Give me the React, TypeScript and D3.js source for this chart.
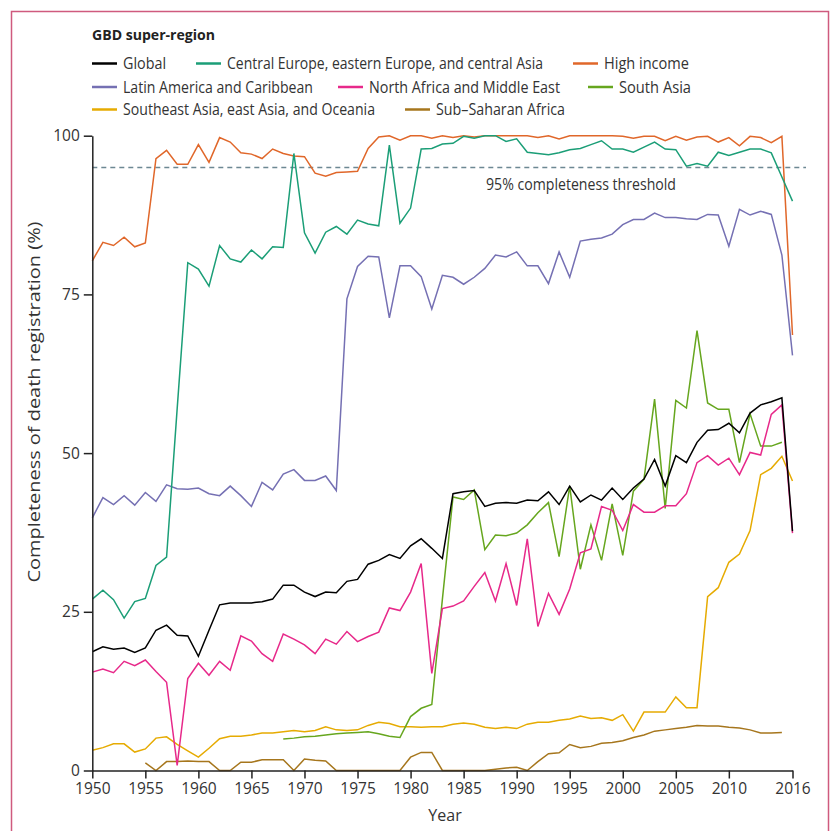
import { useEffect, useRef } from 'react';
import * as d3 from 'd3';

// years 1950..2016
const years = d3.range(1950, 2017);

const globalVals = [
  18.7, 19.5, 19.1, 19.3, 18.6, 19.3, 22.1, 22.9, 21.3, 21.2,
  18.0, 22.1, 26.1, 26.4, 26.4, 26.4, 26.6, 27.0, 29.2, 29.2,
  28.1, 27.4, 28.1, 28.0, 29.8, 30.1, 32.5, 33.1, 34.0, 33.4,
  35.4, 36.5, 35.0, 33.4, 43.6, 43.9, 44.1, 41.6, 42.1, 42.2,
  42.1, 42.6, 42.5, 43.9, 41.9, 44.8, 42.3, 43.4, 42.6, 44.5,
  42.7, 44.5, 45.9, 49.0, 44.8, 49.6, 48.5, 51.7, 53.6, 53.7,
  54.7, 53.2, 56.3, 57.6, 58.1, 58.7, 37.7,
];
const centralEurope = [
  27.0, 28.4, 26.9, 24.0, 26.6, 27.1, 32.3, 33.6, 57.0, 80.0,
  79.0, 76.3, 82.7, 80.6, 80.1, 82.0, 80.6, 82.5, 82.4, 97.2,
  84.7, 81.5, 84.8, 85.7, 84.5, 86.7, 86.1, 85.8, 98.5, 86.2,
  88.6, 97.9, 98.0, 98.7, 98.8, 99.9, 99.6, 100, 100, 99.1,
  99.5, 97.4, 97.2, 97.0, 97.3, 97.8, 98.0, 98.6, 99.2, 97.9,
  97.9, 97.4, 98.2, 99.0, 97.9, 97.8, 95.2, 95.6, 95.2, 97.4,
  96.9, 97.4, 97.9, 97.9, 97.3, 93.5, 89.7,
];
const highIncome = [
  80.3, 83.2, 82.7, 84.0, 82.5, 83.1, 96.4, 97.7, 95.5, 95.5,
  98.6, 95.8, 99.7, 99.0, 97.3, 97.1, 96.4, 97.9, 97.2, 96.8,
  96.7, 94.1, 93.6, 94.2, 94.3, 94.4, 98.0, 99.8, 100, 99.3,
  100, 100, 99.6, 100, 99.7, 100, 99.8, 100, 100, 100,
  100, 100, 99.7, 100, 99.5, 100, 100, 100, 100, 100,
  99.9, 99.6, 99.9, 99.9, 99.2, 99.9, 99.3, 99.8, 99.9, 99.0,
  99.7, 98.4, 99.9, 99.7, 98.9, 99.9, 68.6,
];
const latinAmerica = [
  39.8, 43.0, 41.9, 43.3, 41.8, 43.8, 42.4, 45.0, 44.4, 44.3,
  44.5, 43.6, 43.3, 44.8, 43.3, 41.6, 45.4, 44.2, 46.7, 47.4,
  45.7, 45.7, 46.4, 44.1, 74.3, 79.4, 81.0, 80.9, 71.3, 79.5,
  79.5, 77.8, 72.7, 78.0, 77.7, 76.6, 77.7, 79.1, 81.2, 80.9,
  81.7, 79.5, 79.5, 76.7, 81.7, 77.7, 83.4, 83.7, 83.9, 84.5,
  86.0, 86.8, 86.8, 87.8, 87.1, 87.1, 86.9, 86.8, 87.6, 87.5,
  82.6, 88.4, 87.5, 88.1, 87.6, 81.2, 65.4,
];
const northAfrica = [
  15.5, 16.0, 15.4, 17.2, 16.5, 17.4, 15.6, 13.9, 0.8, 14.5,
  16.9, 15.0, 17.2, 15.8, 21.2, 20.4, 18.4, 17.2, 21.5, 20.7,
  19.8, 18.4, 20.7, 19.9, 21.9, 20.3, 21.1, 21.8, 25.6, 25.2,
  28.1, 32.6, 15.3, 25.5, 25.9, 26.7, 29.0, 31.2, 26.7, 32.6,
  26.0, 36.5, 22.7, 27.9, 24.6, 28.6, 34.3, 34.9, 41.6, 41.0,
  37.8, 41.9, 40.7, 40.7, 41.7, 41.7, 43.6, 48.5, 49.6, 48.1,
  49.2, 46.6, 50.1, 49.7, 56.1, 57.6, 37.4,
];
const southAsia = [
  null, null, null, null, null, null, null, null, null, null,
  null, null, null, null, null, null, null, null, 4.95, 5.1,
  5.3, 5.4, 5.6, 5.8, 5.9, 6.0, 6.1, 5.8, 5.4, 5.2,
  8.5, 9.8, 10.4, 27.0, 43.1, 42.7, 44.2, 34.8, 37.1, 37.0,
  37.4, 38.7, 40.6, 42.2, 33.7, 44.8, 31.7, 38.7, 33.1, 42.0,
  33.9, 44.0, 45.9, 58.5, 41.3, 58.3, 57.1, 69.3, 57.9, 56.9,
  56.9, 48.5, 56.2, 51.1, 51.1, 51.7, null,
];
const southeastAsia = [
  3.2, 3.6, 4.2, 4.2, 2.9, 3.4, 5.1, 5.3, 4.1, 3.1,
  2.1, 3.5, 5.0, 5.4, 5.4, 5.6, 5.9, 5.9, 6.1, 6.3,
  6.1, 6.3, 6.9, 6.4, 6.3, 6.4, 7.1, 7.6, 7.4, 6.9,
  6.9, 6.8, 6.9, 6.9, 7.3, 7.5, 7.3, 6.8, 6.6, 6.8,
  6.6, 7.3, 7.6, 7.6, 7.9, 8.1, 8.6, 8.2, 8.3, 7.9,
  8.8, 6.2, 9.2, 9.2, 9.2, 11.6, 9.9, 9.9, 27.4, 28.8,
  32.8, 34.1, 37.8, 46.6, 47.6, 49.5, 45.6,
];
const subSaharan = [
  null, null, null, null, null, 1.2, 0, 1.4, 1.4, 1.5,
  1.4, 1.4, 0, 0, 1.3, 1.3, 1.7, 1.7, 1.7, 0,
  1.8, 1.6, 1.5, 0, 0, 0, 0, 0, 0, 0,
  2.1, 2.85, 2.85, 0, 0, 0, 0, 0, 0.2, 0.4,
  0.5, 0, 1.4, 2.65, 2.8, 4.1, 3.6, 3.8, 4.3, 4.4,
  4.7, 5.2, 5.6, 6.2, 6.4, 6.6, 6.8, 7.1, 7.0, 7.0,
  6.8, 6.7, 6.4, 5.9, 5.9, 6.0, null,
];

const xTicks = [1950, 1955, 1960, 1965, 1970, 1975, 1980, 1985, 1990, 1995, 2000, 2005, 2010, 2016];
const yTicks = [0, 25, 50, 75, 100];
const threshold = 95;

const series = [
  { name: 'Sub\u2013Saharan Africa', color: '#a6761d', values: subSaharan },
  { name: 'Southeast Asia, east Asia, and Oceania', color: '#e6ab02', values: southeastAsia },
  { name: 'South Asia', color: '#66a61e', values: southAsia },
  { name: 'North Africa and Middle East', color: '#e7298a', values: northAfrica },
  { name: 'Latin America and Caribbean', color: '#7570b3', values: latinAmerica },
  { name: 'High income', color: '#e0672a', values: highIncome },
  { name: 'Central Europe, eastern Europe, and central Asia', color: '#1b9e77', values: centralEurope },
  { name: 'Global', color: '#000000', values: globalVals },
];

// legend placement: [name, lineX, textWidth, row]
const legendItems: [string, number, number, number][] = [
  ['Global', 92, 43, 0],
  ['Central Europe, eastern Europe, and central Asia', 196, 316, 0],
  ['High income', 573, 85, 0],
  ['Latin America and Caribbean', 92, 190, 1],
  ['North Africa and Middle East', 338, 191, 1],
  ['South Asia', 588, 72, 1],
  ['Southeast Asia, east Asia, and Oceania', 92, 252, 2],
  ['Sub\u2013Saharan Africa', 405, 129, 2],
];
const legendRowY = [63.5, 87, 109.5];

const FONT = '"Open Sans", "Noto Sans", sans-serif';

export default function App() {
  const W = 830, H = 831;
  const x = d3.scaleLinear().domain([1950, 2016]).range([92.3, 792.5]);
  const y = d3.scaleLinear().domain([0, 100]).range([770.5, 135.7]);
  const xAxisRef = useRef<SVGGElement>(null);
  const yAxisRef = useRef<SVGGElement>(null);

  useEffect(() => {
    const style = (g: any) => {
      g.select('.domain').attr('stroke', '#222').attr('stroke-width', 1.5);
      g.selectAll('.tick line').attr('stroke', '#222').attr('stroke-width', 1.5);
      g.selectAll('.tick text').attr('fill', '#333').attr('font-family', FONT).attr('font-size', 15.5);
    };
    d3.select(xAxisRef.current)
      .call(d3.axisBottom(x).tickValues(xTicks).tickFormat(d3.format('d')).tickSize(8).tickSizeOuter(0).tickPadding(4.5) as any)
      .call(style);
    d3.select(yAxisRef.current)
      .call(d3.axisLeft(y).tickValues(yTicks).tickSize(8.5).tickSizeOuter(0).tickPadding(4) as any)
      .call(style);
  }, []);

  const line = d3.line<number | null>()
    .defined((d) => d != null)
    .x((_, i) => x(years[i]))
    .y((d) => y(d as number));

  return (
    <svg width={W} height={H} style={{ position: 'absolute', left: 0, top: 0, background: '#fff' }} fontFamily={FONT}>
      <rect x={11.5} y={11.5} width={817} height={840} fill="none" stroke="#cf5a7e" strokeWidth={1.5} />

      <text x={92} y={39.5} fontSize={14.5} fontWeight={700} fill="#222" textLength={123} lengthAdjust="spacingAndGlyphs">
        GBD super-region
      </text>
      {legendItems.map(([name, lx, tw, row]) => {
        const s = series.find((d) => d.name === name)!;
        const ly = legendRowY[row];
        return (
          <g key={name}>
            <line x1={lx} x2={lx + 25} y1={ly} y2={ly} stroke={s.color} strokeWidth={2.5} />
            <text x={lx + 31} y={ly + 5.5} fontSize={15.5} fill="#333" textLength={tw} lengthAdjust="spacingAndGlyphs">
              {name}
            </text>
          </g>
        );
      })}

      <line x1={x(1950)} x2={806} y1={y(threshold)} y2={y(threshold)} stroke="#6d8893" strokeWidth={1.5} strokeDasharray="5,4" />
      <text x={486} y={190} fontSize={15.5} fill="#333" textLength={190} lengthAdjust="spacingAndGlyphs">
        95% completeness threshold
      </text>

      {series.map((s) => (
        <path key={s.name} d={line(s.values) || ''} fill="none" stroke={s.color} strokeWidth={1.5} strokeLinejoin="miter" />
      ))}

      <g ref={xAxisRef} transform={`translate(0,${y(0)})`} />
      <g ref={yAxisRef} transform={`translate(${x(1950)},0)`} />

      <text x={445} y={821} fontSize={16} fill="#333" textAnchor="middle">Year</text>
      <text transform="translate(40,402) rotate(-90)" fontSize={16.5} fill="#333" textAnchor="middle" textLength={361} lengthAdjust="spacingAndGlyphs">
        Completeness of death registration (%)
      </text>
    </svg>
  );
}
